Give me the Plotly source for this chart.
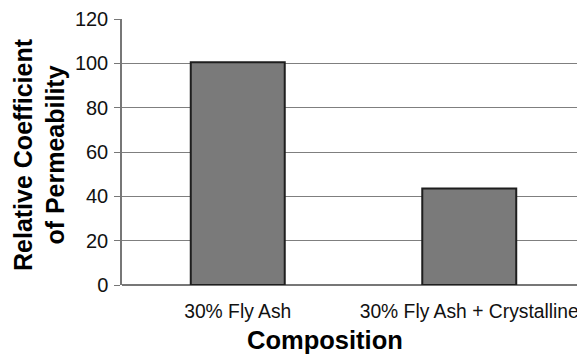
import plotly.graph_objects as go

categories = ["30% Fly Ash", "30% Fly Ash + Crystalline"]
values = [100.5, 43.5]
y_ticks = [0, 20, 40, 60, 80, 100, 120]
x_title = "Composition"
y_title = "Relative Coefficient<br>of Permeability"

fig = go.Figure()
fig.add_trace(go.Bar(
    x=categories, y=values, width=0.406,
    marker=dict(color="#7a7a7a", line=dict(color="#1e1e1e", width=2)),
))

font = "Liberation Sans, Arial, sans-serif"
# page body has an 8px default margin; figure is sized to fill the rest of the window
fig.update_layout(
    width=577, height=346,
    margin=dict(l=114, r=0, t=11, b=69),
    paper_bgcolor="white", plot_bgcolor="white",
    showlegend=False,
    font=dict(family=font, color="#111"),
    xaxis=dict(
        range=[-0.5, 1.5], automargin=False,
        showgrid=False, showline=False, ticks="",
        tickfont=dict(size=19.3, color="#111"),
        ticklabelstandoff=13,
    ),
    yaxis=dict(
        range=[0, 120], tickvals=y_ticks, automargin=False,
        showgrid=True, gridcolor="#7f7f7f", gridwidth=1.3,
        showline=True, linecolor="#777", linewidth=1.5,
        ticks="outside", ticklen=6, tickcolor="#777", tickwidth=1.3,
        tickfont=dict(size=20, color="#111"),
        ticklabelstandoff=2,
        zeroline=True, zerolinecolor="#777", zerolinewidth=1.5,
    ),
    annotations=[
        dict(text=f"<b>{x_title}</b>", xref="paper", yref="paper",
             x=0.4395, y=-0.207, xanchor="center", yanchor="middle",
             showarrow=False, font=dict(size=25.5, color="#000")),
        dict(text=f"<b>{y_title}</b>", xref="paper", yref="paper",
             x=-0.1785, y=0.49, xanchor="center", yanchor="middle", textangle=-90,
             showarrow=False, font=dict(size=25, color="#000")),
    ],
)
fig.write_html("out.html")
